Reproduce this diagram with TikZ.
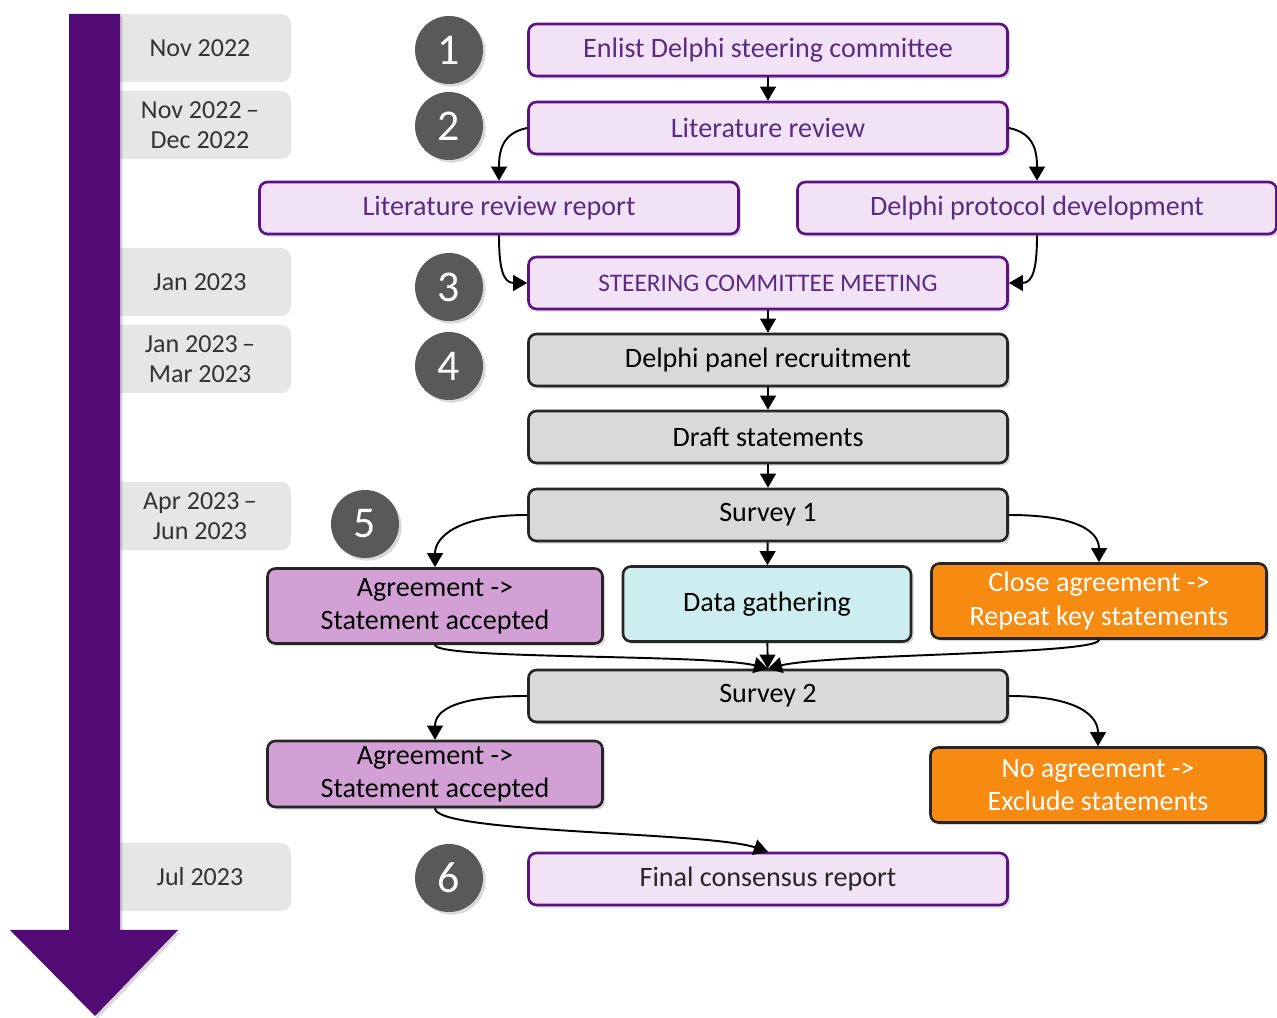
\documentclass[tikz,border=0pt]{standalone}
\usepackage{fontspec}
\setmainfont{Carlito}
\usetikzlibrary{arrows.meta,shadows}

\definecolor{timeline}{HTML}{520A75}
\definecolor{dategray}{HTML}{E6E6E6}
\definecolor{numgray}{HTML}{595959}
\definecolor{planfill}{HTML}{F2E2F5}
\definecolor{planborder}{HTML}{5E1089}
\definecolor{plantext}{HTML}{5A2A84}
\definecolor{taskgray}{HTML}{D9D9D9}
\definecolor{agreefill}{HTML}{D2A0D5}
\definecolor{datafill}{HTML}{CDEEF0}
\definecolor{orangefill}{HTML}{F78A10}

\begin{document}
\begin{tikzpicture}[x=0.2mm,y=-0.2mm,
    every node/.style={font=\fontsize{16}{19}\selectfont,align=center},
    shade/.style={drop shadow={shadow xshift=1.5pt,shadow yshift=-1.5pt,opacity=.3}},
    box/.style={rounded corners=1.6mm,line width=1.5pt,inner sep=0pt,
        minimum width=95.8mm,minimum height=10.4mm,shade},
    planbox/.style={box,draw=planborder,fill=planfill,text=plantext},
    taskbox/.style={box,draw=black!85,fill=taskgray},
    outbox/.style={box,draw=black!85,minimum width=67mm,minimum height=15mm},
    datebox/.style={fill=dategray,rounded corners=2mm,inner sep=0pt,
        minimum width=36.4mm,minimum height=13.6mm,text=black!80,
        font=\fontsize{14.8}{17}\selectfont},
    stepnum/.style={circle,fill=numgray,text=white,inner sep=0pt,
        minimum size=13.6mm,font=\fontsize{25}{27}\selectfont,shade},
    flow/.style={-{Triangle[length=8pt,width=9pt]},line width=1.1pt}
]
    \useasboundingbox (0,0) rectangle (1277,1018);

    % Dates
    \node[datebox] (d1) at (200,48) {Nov 2022};
    \node[datebox] (d2) at (200,125) {Nov 2022\,--\\Dec 2022};
    \node[datebox] (d3) at (200,282) {Jan 2023};
    \node[datebox] (d4) at (200,359) {Jan 2023\,--\\Mar 2023};
    \node[datebox] (d5) at (200,516) {Apr 2023\,--\\Jun 2023};
    \node[datebox] (d6) at (200,877) {Jul 2023};

    % Timeline
    \fill[timeline,shade] (69,14) -- (120,14) -- (120,930) -- (178,930)
        -- (95,1016) -- (10,930) -- (69,930) -- cycle;

    % Step numbers
    \foreach \n/\x/\y in {1/449/50,2/449/126,3/449/287,4/449/366,5/365/524,6/449/878}
        \node[stepnum] (n\n) at (\x,\y) {\n};

    % Planning
    \node[planbox] (enlist) at (768,50) {Enlist Delphi steering committee};
    \node[planbox] (litrev) at (768,128) {Literature review};
    \node[planbox] (litrep) at (499,208) {Literature review report};
    \node[planbox] (protocol) at (1037,208) {Delphi protocol development};
    \node[planbox,font=\fontsize{14.4}{17}\selectfont] (steering) at (768,283) {STEERING COMMITTEE MEETING};

    % Survey rounds
    \node[taskbox] (recruit) at (768,360) {Delphi panel recruitment};
    \node[taskbox] (draft) at (768,437) {Draft statements};
    \node[taskbox] (survey1) at (768,515) {Survey 1};
    \node[outbox,fill=agreefill] (agree1) at (435,606) {Agreement ->\\Statement accepted};
    \node[outbox,fill=datafill,minimum width=57.6mm] (gather) at (767,604) {Data gathering};
    \node[outbox,fill=orangefill,text=white] (close) at (1099,601) {Close agreement ->\\Repeat key statements};
    \node[taskbox] (survey2) at (768,696) {Survey 2};
    \node[outbox,fill=agreefill,minimum height=13.2mm] (agree2) at (435,774) {Agreement ->\\Statement accepted};
    \node[outbox,fill=orangefill,text=white] (noagree) at (1098,785) {No agreement ->\\Exclude statements};
    \node[planbox,text=black!85] (final) at (768,879) {Final consensus report};

    % Connectors
    \foreach \a/\b in {enlist/litrev,steering/recruit,recruit/draft,draft/survey1,survey1/gather,gather/survey2}
        \draw[flow] (\a) -- (\b);
    \draw[flow] (litrev.west) .. controls +(-25,5) and +(0,-30) .. (litrep.north);
    \draw[flow] (litrev.east) .. controls +(25,5) and +(0,-30) .. (protocol.north);
    \draw[flow] (litrep.south) .. controls +(0,30) and +(-25,0) .. (steering.west);
    \draw[flow] (protocol.south) .. controls +(0,30) and +(25,0) .. (steering.east);
    \draw[flow] (survey1.west) .. controls +(-70,0) and +(0,-30) .. (agree1.north);
    \draw[flow] (survey1.east) .. controls +(70,0) and +(0,-30) .. (close.north);
    \draw[flow] (agree1.south) .. controls +(0,15) and +(-60,-15) .. (survey2.north);
    \draw[flow] (close.south) .. controls +(0,15) and +(60,-15) .. (survey2.north);
    \draw[flow] (survey2.west) .. controls +(-70,0) and +(0,-30) .. (agree2.north);
    \draw[flow] (survey2.east) .. controls +(70,0) and +(0,-30) .. (noagree.north);
    \draw[flow] (agree2.south) .. controls +(0,25) and +(-60,-20) .. (final.north);

\end{tikzpicture}
\end{document}
